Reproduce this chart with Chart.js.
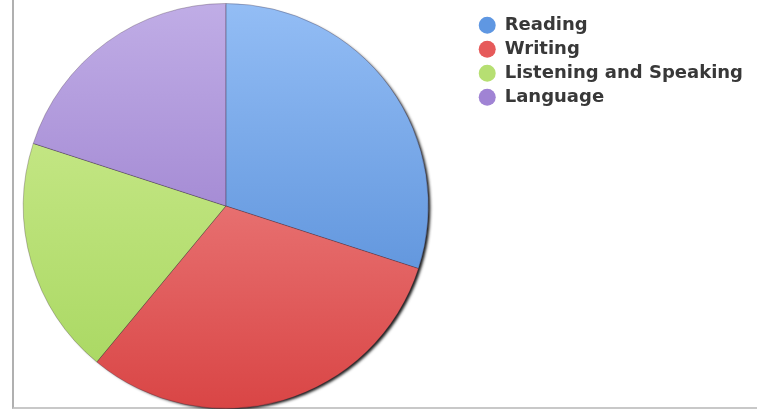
<!DOCTYPE html>
<html>
<head>
<meta charset="utf-8">
<script src="https://cdn.jsdelivr.net/npm/chart.js@4/dist/chart.umd.min.js"></script>
<style>
  html, body { margin: 0; padding: 0; background: #fff; overflow: hidden; }
  #wrap { position: relative; width: 757px; height: 410px; overflow: hidden; }
  #frame { position: absolute; left: 12px; top: 0; width: 745px; height: 407px;
           border-left: 2px solid #b0b0b0; border-bottom: 2px solid #c8c8c8; }
  canvas { position: absolute; left: -21px; top: 3px; }
</style>
</head>
<body>
<div id="wrap">
  <div id="frame"></div>
  <canvas id="pie-chart" width="781" height="406"></canvas>
</div>
<script>
// data (percent share)
const categories = ["Reading", "Writing", "Listening and Speaking", "Language"];
const shares = [30, 31, 19, 20];

// light top / dark bottom for each slice, plus a flat colour for the legend dots
const topColors = ["#93bdf5", "#f59a9a", "#d2ee96", "#c0ade6"];
const bottomColors = ["#4a84d2", "#d94545", "#a6d65e", "#8c6cc4"];
const dotColors = ["#5f97e2", "#e65a5a", "#b6df72", "#a083d4"];

function sliceGradient(ctx) {
    const chart = ctx.chart;
    const area = chart.chartArea;
    const i = ctx.dataIndex;
    if (!area || i === undefined) return dotColors[i || 0];
    const g = chart.ctx.createLinearGradient(0, area.top, 0, area.bottom);
    g.addColorStop(0, topColors[i]);
    g.addColorStop(1, bottomColors[i]);
    return g;
}

// dark rim under the pie, bottom right
const pieShadow = {
    id: 'pieShadow',
    beforeDatasetsDraw(chart) {
        const arc = chart.getDatasetMeta(0).data[0];
        if (!arc) return;
        const c = chart.ctx;
        c.save();
        c.shadowColor = 'rgba(0,0,0,0.9)';
        c.shadowBlur = 3;
        c.shadowOffsetX = 3;
        c.shadowOffsetY = 2;
        c.fillStyle = '#111';
        c.beginPath();
        c.arc(arc.x, arc.y, arc.outerRadius - 1, 0, Math.PI * 2);
        c.fill();
        c.restore();
    }
};

new Chart(document.getElementById("pie-chart"), {
    type: 'pie',
    data: {
        labels: categories,
        datasets: [{
            data: shares,
            backgroundColor: sliceGradient,
            borderWidth: 1,
            borderColor: 'rgba(60,40,60,0.3)'
        }]
    },
    options: {
        responsive: false,
        animation: false,
        layout: { padding: { left: 0, right: 7, top: 0, bottom: 0 } },
        plugins: {
            tooltip: { enabled: false },
            legend: {
                position: 'right',
                align: 'start',
                title: { display: true, text: ' ', font: { size: 1 }, padding: { top: 0, bottom: 6 } },
                labels: {
                    useBorderRadius: true,
                    borderRadius: 8.5,
                    boxWidth: 17,
                    boxHeight: 17,
                    padding: 6,
                    color: '#383838',
                    font: { family: 'DejaVu Sans', size: 18, weight: 'bold' },
                    generateLabels(chart) {
                        return categories.map((name, i) => ({
                            text: name,
                            fillStyle: dotColors[i],
                            strokeStyle: dotColors[i],
                            fontColor: '#383838',
                            lineWidth: 0,
                            borderRadius: 8.5,
                            hidden: false,
                            index: i
                        }));
                    }
                }
            }
        }
    },
    plugins: [pieShadow]
});
</script>
</body>
</html>
